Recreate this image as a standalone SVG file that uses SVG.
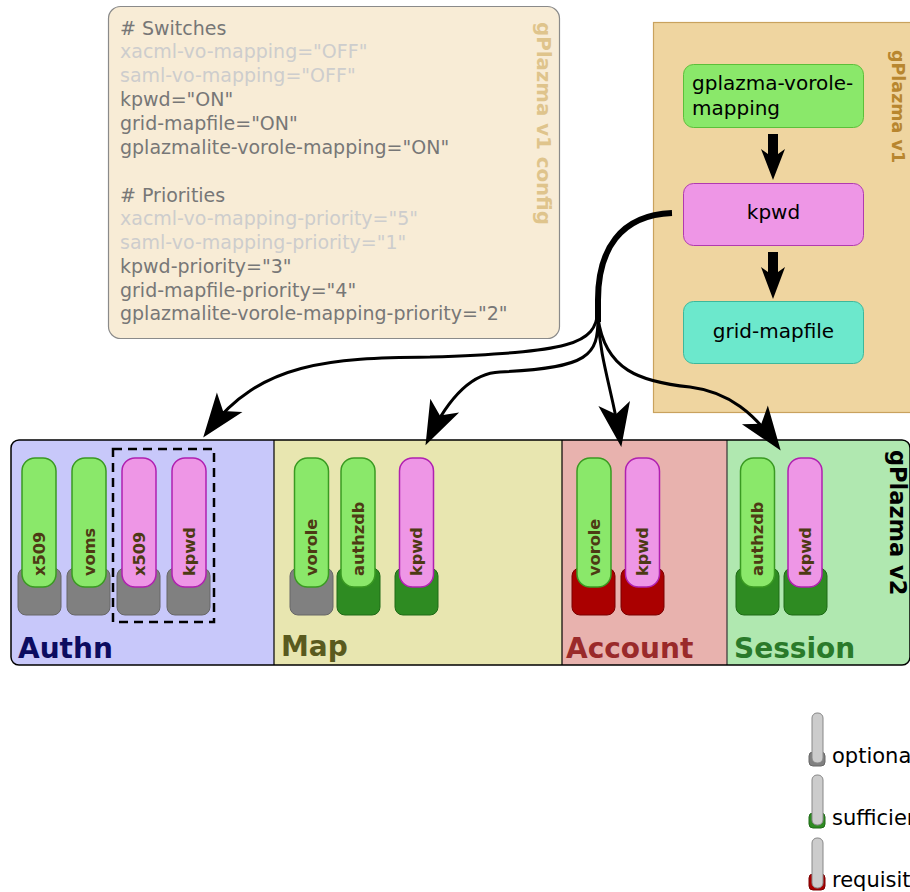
<svg xmlns="http://www.w3.org/2000/svg" width="910" height="892" viewBox="0 0 910 892">
<style>
text{font-family:"DejaVu Sans","Liberation Sans",sans-serif}
.cfg{font-size:19px;fill:#777}
.off{fill:#cdcdcd}
.v1n{font-size:20px;fill:#000}
.lab{font-size:16.2px;font-weight:bold;fill:#4d3a14}
.sec{font-size:28px;font-weight:bold}
.base-o{fill:#808080;stroke:#676767;stroke-width:1}
.base-s{fill:#2e8b22;stroke:#1e6a16;stroke-width:1}
.base-r{fill:#aa0000;stroke:#7a0000;stroke-width:1}
.pill-g{fill:#8ae86a;stroke:#3a9a22;stroke-width:1.5}
.pill-p{fill:#ee96e6;stroke:#b020b0;stroke-width:1.5}
.pill-l{fill:#cccccc;stroke:#888;stroke-width:1}
.conn{fill:none;stroke:#000;stroke-width:3}
.leg{font-size:21px;fill:#000}
</style>
<defs>
<marker id="ah" markerUnits="userSpaceOnUse" viewBox="-40 -20 50 40" markerWidth="50" markerHeight="40" refX="0" refY="0" orient="auto" overflow="visible">
<path d="M8,0 L-36,-16 L-25,0 L-36,16 Z" fill="#000"/>
</marker>
<clipPath id="v2clip"><rect x="11" y="440" width="899" height="225" rx="8"/></clipPath>
</defs>

<g id="config">
<rect x="108.5" y="6.5" width="451" height="332" rx="12" fill="#f8ecd6" stroke="#8a8a8a" stroke-width="1.2"/>
<text class="cfg" x="120" y="35"># Switches</text>
<text class="cfg off" x="120" y="58">xacml-vo-mapping="OFF"</text>
<text class="cfg off" x="120" y="82">saml-vo-mapping="OFF"</text>
<text class="cfg" x="120" y="106">kpwd="ON"</text>
<text class="cfg" x="120" y="130">grid-mapfile="ON"</text>
<text class="cfg" x="120" y="154">gplazmalite-vorole-mapping="ON"</text>
<text class="cfg" x="120" y="202"># Priorities</text>
<text class="cfg off" x="120" y="225">xacml-vo-mapping-priority="5"</text>
<text class="cfg off" x="120" y="249">saml-vo-mapping-priority="1"</text>
<text class="cfg" x="120" y="273">kpwd-priority="3"</text>
<text class="cfg" x="120" y="297">grid-mapfile-priority="4"</text>
<text class="cfg" x="120" y="320">gplazmalite-vorole-mapping-priority="2"</text>
<text transform="translate(537,22) rotate(90)" style="font-size:19.8px;font-weight:bold;fill:#dfc48c">gPlazma v1 config</text>
</g>

<g id="gplazma-v1">
<rect x="653.5" y="22.5" width="270" height="390" fill="#efd5a0" stroke="#c9a25e" stroke-width="1.2"/>
<text transform="translate(892,50) rotate(90)" style="font-size:17.5px;font-weight:bold;fill:#b8862f">gPlazma v1</text>
</g>
<g id="v1-vorole">
<rect x="683.5" y="64.5" width="180" height="63" rx="10" fill="#8ae86a" stroke="#5cbf3a" stroke-width="1"/>
<text class="v1n" x="692" y="90">gplazma-vorole-</text>
<text class="v1n" x="692" y="115">mapping</text>
</g>
<g id="v1-kpwd">
<rect x="683.5" y="183.5" width="180" height="62" rx="10" fill="#ee96e6" stroke="#b03ab0" stroke-width="1"/>
<text class="v1n" x="773.5" y="219" text-anchor="middle">kpwd</text>
</g>
<g id="v1-gridmapfile">
<rect x="683.5" y="301.5" width="180" height="62" rx="10" fill="#6ce8cc" stroke="#3cb89c" stroke-width="1"/>
<text class="v1n" x="773.5" y="338" text-anchor="middle">grid-mapfile</text>
</g>

<g id="gplazma-v2">
<g clip-path="url(#v2clip)">
<rect x="11" y="440" width="263" height="225" fill="#c8c8fa"/>
<rect x="274" y="440" width="288" height="225" fill="#e8e6b0"/>
<rect x="562" y="440" width="165" height="225" fill="#e8b2ae"/>
<rect x="727" y="440" width="190" height="225" fill="#b0e8b0"/>
</g>
<line x1="274" y1="440" x2="274" y2="665" stroke="#000" stroke-width="1.2"/>
<line x1="562" y1="440" x2="562" y2="665" stroke="#000" stroke-width="1.2"/>
<line x1="727" y1="440" x2="727" y2="665" stroke="#333" stroke-width="1.2"/>
<rect x="11" y="440" width="899" height="225" rx="8" fill="none" stroke="#000" stroke-width="1.5"/>
<text class="sec" x="18" y="658" fill="#0c0c60">Authn</text>
<text class="sec" x="281" y="656" fill="#5a5a1e">Map</text>
<text class="sec" x="566" y="658" fill="#9a2a2a">Account</text>
<text class="sec" x="734" y="658" fill="#2a7a2a">Session</text>
<text transform="translate(890,450) rotate(90)" style="font-size:22.5px;font-weight:bold;fill:#000">gPlazma v2</text>
<rect x="113" y="449" width="101" height="173" fill="none" stroke="#000" stroke-width="2.5" stroke-dasharray="9,6"/>
</g>

<g id="authn-x509">
<rect class="base-o" x="18" y="568" width="43" height="47" rx="8"/>
<rect class="pill-g" x="22" y="458" width="34" height="129" rx="13"/>
<text class="lab" transform="translate(45,576) rotate(-90)">x509</text>
</g>
<g id="authn-voms">
<rect class="base-o" x="67" y="568" width="43" height="47" rx="8"/>
<rect class="pill-g" x="72" y="458" width="34" height="129" rx="13"/>
<text class="lab" transform="translate(95,576) rotate(-90)">voms</text>
</g>
<g id="authn-x509-v1">
<rect class="base-o" x="117" y="568" width="43" height="47" rx="8"/>
<rect class="pill-p" x="122" y="458" width="34" height="129" rx="13"/>
<text class="lab" transform="translate(145,576) rotate(-90)">x509</text>
</g>
<g id="authn-kpwd">
<rect class="base-o" x="167" y="568" width="43" height="47" rx="8"/>
<rect class="pill-p" x="172" y="458" width="34" height="129" rx="13"/>
<text class="lab" transform="translate(195,576) rotate(-90)">kpwd</text>
</g>

<g id="map-vorole">
<rect class="base-o" x="290" y="568" width="43" height="47" rx="8"/>
<rect class="pill-g" x="294.5" y="458" width="34" height="129" rx="13"/>
<text class="lab" transform="translate(317,576) rotate(-90)">vorole</text>
</g>
<g id="map-authzdb">
<rect class="base-s" x="337" y="568" width="43" height="47" rx="8"/>
<rect class="pill-g" x="341" y="458" width="34" height="129" rx="13"/>
<text class="lab" transform="translate(364,576) rotate(-90)">authzdb</text>
</g>
<g id="map-kpwd">
<rect class="base-s" x="395" y="568" width="43" height="47" rx="8"/>
<rect class="pill-p" x="399.5" y="458" width="34" height="129" rx="13"/>
<text class="lab" transform="translate(422,576) rotate(-90)">kpwd</text>
</g>

<g id="account-vorole">
<rect class="base-r" x="572" y="568" width="43" height="47" rx="8"/>
<rect class="pill-g" x="577" y="458" width="34" height="129" rx="13"/>
<text class="lab" transform="translate(600,576) rotate(-90)">vorole</text>
</g>
<g id="account-kpwd">
<rect class="base-r" x="621" y="568" width="43" height="47" rx="8"/>
<rect class="pill-p" x="625.5" y="458" width="34" height="129" rx="13"/>
<text class="lab" transform="translate(648,576) rotate(-90)">kpwd</text>
</g>

<g id="session-authzdb">
<rect class="base-s" x="736" y="568" width="43" height="47" rx="8"/>
<rect class="pill-g" x="740.5" y="458" width="34" height="129" rx="13"/>
<text class="lab" transform="translate(763,576) rotate(-90)">authzdb</text>
</g>
<g id="session-kpwd">
<rect class="base-s" x="784" y="568" width="43" height="47" rx="8"/>
<rect class="pill-p" x="788" y="458" width="34" height="129" rx="13"/>
<text class="lab" transform="translate(811,576) rotate(-90)">kpwd</text>
</g>

<g id="connectors">
<path d="M768,134 H778 V154 L785,149 L773,180 L761,149 L768,154 Z" fill="#000"/>
<path d="M768,252 H778 V272 L785,267 L773,299 L761,267 L768,272 Z" fill="#000"/>
<path d="M672,213 C620,215 598,250 598,300 L598,322" fill="none" stroke="#000" stroke-width="6"/>
<path class="conn" d="M598,310 C596,345 570,352 430,357 C330,358 260,362 208,431" marker-end="url(#ah)"/>
<path class="conn" d="M598,318 C598,355 590,368 500,372 C468,373 445,405 429,438" marker-end="url(#ah)"/>
<path class="conn" d="M598,318 C600,360 612,390 620,439" marker-end="url(#ah)"/>
<path class="conn" d="M598,318 C605,370 640,382 690,387 C730,392 755,415 776,444" marker-end="url(#ah)"/>
</g>

<g id="legend">
<g id="legend-optional">
<rect class="base-o" x="809" y="752" width="16" height="14" rx="4"/>
<rect class="pill-l" x="812" y="713" width="11" height="50" rx="5"/>
<text class="leg" x="832" y="763">optional</text>
</g>
<g id="legend-sufficient">
<rect class="base-s" x="809" y="813" width="16" height="15" rx="4"/>
<rect class="pill-l" x="812" y="775" width="11" height="50" rx="5"/>
<text class="leg" x="832" y="825">sufficient</text>
</g>
<g id="legend-requisite">
<rect class="base-r" x="809" y="874" width="16" height="16" rx="4"/>
<rect class="pill-l" x="812" y="838" width="11" height="50" rx="5"/>
<text class="leg" x="832" y="887">requisite</text>
</g>
</g>
</svg>
